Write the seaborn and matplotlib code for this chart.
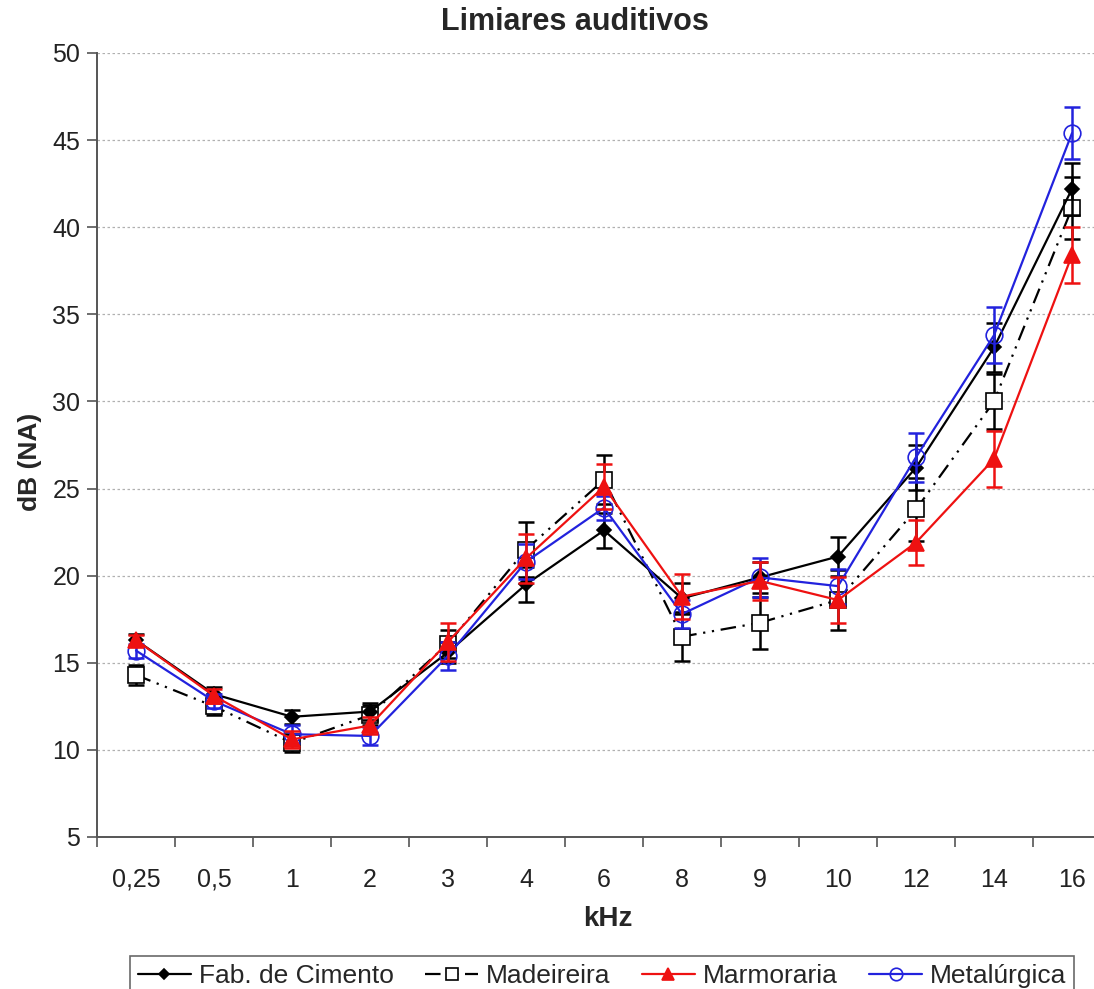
import numpy as np
import pandas as pd
import seaborn as sns
import matplotlib
matplotlib.use("Agg")
import matplotlib.pyplot as plt
from matplotlib.ticker import FixedLocator, MultipleLocator

# Frequencies (kHz) tested
freq_labels = ["0,25", "0,5", "1", "2", "3", "4", "6", "8", "9", "10", "12", "14", "16"]

# Mean hearing thresholds, dB (NA), per industry group, with error-bar half widths
cimento = [16.3, 13.2, 11.9, 12.2, 15.6, 19.5, 22.6, 18.7, 19.9, 21.1, 26.2, 33.1, 42.2]
cimento_err = [0.35, 0.4, 0.4, 0.5, 0.6, 1.0, 1.0, 0.9, 0.9, 1.1, 1.3, 1.4, 1.5]

madeireira = [14.3, 12.5, 10.4, 12.0, 16.1, 21.5, 25.5, 16.5, 17.3, 18.6, 23.8, 30.0, 41.1]
madeireira_err = [0.55, 0.5, 0.5, 0.6, 0.8, 1.6, 1.4, 1.4, 1.5, 1.7, 1.8, 1.6, 1.8]

marmoraria = [16.3, 13.1, 10.6, 11.4, 16.2, 21.0, 25.1, 18.8, 19.7, 18.6, 21.9, 26.7, 38.4]
marmoraria_err = [0.3, 0.4, 0.5, 0.5, 1.1, 1.4, 1.3, 1.3, 1.1, 1.3, 1.3, 1.6, 1.6]

metalurgica = [15.7, 12.8, 10.9, 10.8, 15.4, 20.8, 23.9, 17.8, 19.9, 19.4, 26.8, 33.8, 45.4]
metalurgica_err = [0.4, 0.4, 0.5, 0.5, 0.8, 1.0, 0.7, 0.8, 1.1, 1.0, 1.4, 1.6, 1.5]

groups = ["Fab. de Cimento", "Madeireira", "Marmoraria", "Metalúrgica"]
values = [cimento, madeireira, marmoraria, metalurgica]
errors = [cimento_err, madeireira_err, marmoraria_err, metalurgica_err]

sns.set_theme(style="white")
plt.rcParams["font.family"] = ["Liberation Sans", "DejaVu Sans"]

df = pd.DataFrame({
    "kHz": np.tile(freq_labels, len(groups)),
    "dB": np.concatenate(values),
    "err": np.concatenate(errors),
    "grupo": np.repeat(groups, len(freq_labels)),
})

styles = {
    "Fab. de Cimento": dict(color="black", marker="D", mfc="black", mec="black",
                            ms=7, ls="-", z=4),
    "Madeireira": dict(color="black", marker="s", mfc="white", mec="black",
                       ms=12, ls=(0, (7, 3, 1, 3, 1, 3)), z=3),
    "Marmoraria": dict(color="#ee1111", marker="^", mfc="#ee1111", mec="#ee1111",
                       ms=11, ls="-", z=6),
    "Metalúrgica": dict(color="#2222dd", marker="o", mfc="none", mec="#2222dd",
                        ms=12, ls="-", z=5),
}

W, H = 1094, 989
fig = plt.figure(figsize=(W / 100, H / 100), dpi=100)
ax = fig.add_axes([97 / W, 1 - 837 / H, (1111 - 97) / W, (837 - 53) / H])

for g in groups:
    s = styles[g]
    sub = df[df["grupo"] == g]
    sns.lineplot(data=sub, x="kHz", y="dB", ax=ax, color=s["color"],
                 linestyle=s["ls"], linewidth=1.6, marker=s["marker"],
                 markersize=s["ms"], markerfacecolor=s["mfc"],
                 markeredgecolor=s["mec"], markeredgewidth=1.2,
                 label=g, zorder=s["z"], sort=False)

xpos = np.arange(len(freq_labels))
for g in groups:
    s = styles[g]
    sub = df[df["grupo"] == g]
    ax.errorbar(xpos, sub["dB"].values, yerr=sub["err"].values, fmt="none",
                ecolor=s["color"], elinewidth=1.8, capsize=5.5, capthick=1.8,
                zorder=s["z"] - 0.5)

ax.set_xlim(-0.5, len(freq_labels) - 0.5)
ax.set_ylim(5, 50)
ax.yaxis.set_major_locator(MultipleLocator(5))
ax.set_xticks(xpos)
ax.set_xticklabels(freq_labels)
ax.xaxis.set_minor_locator(FixedLocator(np.arange(-0.5, len(freq_labels), 1.0)))
ax.tick_params(axis="x", which="major", length=0, pad=22, labelsize=18, colors="#222222")
ax.tick_params(axis="x", which="minor", length=7, width=1.2, direction="out",
               color="#555555", bottom=True)
ax.tick_params(axis="y", which="major", length=7, width=1.2, direction="out",
               left=True, pad=5, labelsize=18, colors="#222222")
ax.tick_params(axis="y", which="major", color="#555555")

ax.grid(axis="y", linestyle=(0, (2, 2)), color="#b0b0b0", linewidth=0.9)
ax.grid(axis="x", visible=False)
for side in ("top", "right"):
    ax.spines[side].set_visible(False)
for side in ("left", "bottom"):
    ax.spines[side].set_color("#555555")
    ax.spines[side].set_linewidth(1.4)

ax.set_xlabel("kHz", fontsize=20, fontweight="bold", va="center")
ax.xaxis.set_label_coords((608 - 97) / (1111 - 97), -(919 - 837) / (837 - 53))
ax.set_ylabel("dB (NA)", fontsize=19, fontweight="bold", va="center")
ax.yaxis.set_label_coords(-(97 - 30) / (1111 - 97), (837 - 462) / (837 - 53))

fig.text(575 / W, 1 - 22 / H, "Limiares auditivos", ha="center", va="center",
         fontsize=22, fontweight="bold")

if ax.get_legend():
    ax.get_legend().remove()
handles, labels = ax.get_legend_handles_labels()
leg = fig.legend(handles[:4], labels[:4], loc="upper left",
                 bbox_to_anchor=(130 / W, 1 - 956 / H), ncol=4, fontsize=19,
                 frameon=True, fancybox=False, edgecolor="#444444",
                 handlelength=2.0, handletextpad=0.3, columnspacing=1.2,
                 borderaxespad=0.0, borderpad=0.3, markerscale=0.75)
leg.get_frame().set_linewidth(1.2)

fig.savefig("out.png", dpi=100)
